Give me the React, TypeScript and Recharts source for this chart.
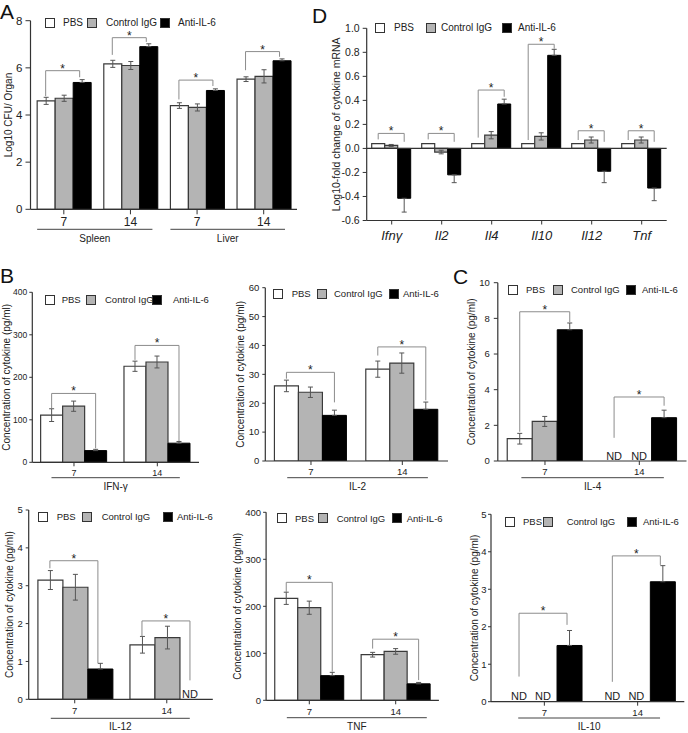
import React from 'react';
import { BarChart, Bar, XAxis, YAxis, ErrorBar, ReferenceLine } from 'recharts';

const FONT = '"Liberation Sans", Arial, Helvetica, sans-serif';
const INK = '#222';
const AXIS = '#333';
const GREY_FILL = '#b4b4b4';
const BRACKET = '#8c8c8c';
const ERR = '#555';

type Num = number | null;

// A: bacterial load (log10 CFU / organ)
const aCats = ['S7', 'S14', 'L7', 'L14'];
const aTickText = ['7', '14', '7', '14'];
const aPbs: Num[] = [4.6, 6.17, 4.4, 5.52];
const aPbsErr = [0.15, 0.15, 0.12, 0.1];
const aCtrl: Num[] = [4.71, 6.1, 4.32, 5.64];
const aCtrlErr = [0.13, 0.17, 0.15, 0.28];
const aAnti: Num[] = [5.38, 6.9, 5.04, 6.3];
const aAntiErr = [0.12, 0.12, 0.07, 0.08];
const aBrackets = [[5.88, 4.8, 5.6], [7.28, 6.55, 7.1], [5.48, 4.66, 5.23], [6.69, 5.9, 6.47]];
const aTicks = [0, 2, 4, 6, 8];

// D: log10 fold change of cytokine mRNA
const dCats = ['Ifnγ', 'Il2', 'Il4', 'Il10', 'Il12', 'Tnf'];
const dPbs: Num[] = [0.04, 0.04, 0.04, 0.04, 0.04, 0.04];
const dPbsErr = [0, 0, 0, 0, 0, 0];
const dCtrl: Num[] = [0.025, -0.03, 0.11, 0.1, 0.07, 0.07];
const dCtrlErr = [0.008, 0.015, 0.03, 0.03, 0.025, 0.025];
const dAnti: Num[] = [-0.415, -0.22, 0.37, 0.775, -0.19, -0.33];
const dAntiErr = [0.115, 0.065, 0.04, 0.05, 0.095, 0.105];
const dBrackets = [[0.125, 0.075, 0.055], [0.125, 0.075, 0.055], [0.486, 0.09, 0.43], [0.867, 0.07, 0.83], [0.147, 0.07, 0.055], [0.147, 0.07, 0.055]];
const dTicks = [-0.6, -0.4, -0.2, 0, 0.2, 0.4, 0.6, 0.8, 1.0];

// B / C: serum cytokines, days 7 and 14 (null = not detected)
const dayCats = ['7', '14'];

const ifnPbs: Num[] = [111, 226];
const ifnPbsErr = [15, 12];
const ifnCtrl: Num[] = [132, 236];
const ifnCtrlErr = [12, 14];
const ifnAnti: Num[] = [27.5, 45];
const ifnAntiErr = [3, 4];
const ifnBrackets = [[162, 127, 33], [275, 241, 50]];

const il2Pbs: Num[] = [26, 31.8];
const il2PbsErr = [2, 2.8];
const il2Ctrl: Num[] = [23.8, 33.9];
const il2CtrlErr = [1.8, 3.5];
const il2Anti: Num[] = [15.8, 17.9];
const il2AntiErr = [1.8, 2.5];
const il2Brackets = [[30.7, 28.5, 20.3], [39.5, 36.5, 21]];

const il4Pbs: Num[] = [1.25, null];
const il4PbsErr = [0.3, 0];
const il4Ctrl: Num[] = [2.22, null];
const il4CtrlErr = [0.28, 0];
const il4Anti: Num[] = [7.36, 2.43];
const il4AntiErr = [0.38, 0.42];
const il4Brackets = [[8.37, 1.64, 7.78], [3.59, 1.3, 3.1]];

const il12Pbs: Num[] = [3.15, 1.44];
const il12PbsErr = [0.25, 0.22];
const il12Ctrl: Num[] = [2.96, 1.63];
const il12CtrlErr = [0.34, 0.3];
const il12Anti: Num[] = [0.8, null];
const il12AntiErr = [0.15, 0];
const il12Brackets = [[3.66, 3.46, 0.95], [2.07, 1.66, 0.5]];

const tnfPbs: Num[] = [217, 97];
const tnfPbsErr = [13, 5];
const tnfCtrl: Num[] = [197, 104];
const tnfCtrlErr = [14, 6];
const tnfAnti: Num[] = [52.5, 35];
const tnfAntiErr = [7, 3];
const tnfBrackets = [[251, 230, 61], [130, 110, 43]];

const il10Pbs: Num[] = [null, null];
const il10PbsErr = [0, 0];
const il10Ctrl: Num[] = [null, null];
const il10CtrlErr = [0, 0];
const il10Anti: Num[] = [1.5, 3.2];
const il10AntiErr = [0.4, 0.43];
const il10Brackets = [[2.36, 0.67, 2.05], [3.89, 0.53, 3.65]];

const Y_LABEL = 'Concentration of cytokine (pg/ml)';

interface Group { from: number; to: number; text: string }

interface Cfg {
  left: number; top: number; width: number; height: number;
  margin: { top: number; right: number; bottom: number; left: number };
  yWidth: number; xHeight: number; xPad?: number;
  cats: string[]; tickText?: string[];
  pbs: Num[]; pbsErr: number[]; ctrl: Num[]; ctrlErr: number[]; anti: Num[]; antiErr: number[];
  yDomain: [number, number]; yTicks: number[]; yFmt?: (v: number) => string;
  yLabel: string; yLabelX: number; yLabelSize: number;
  yTickSize: number; yTickMargin: number; yTickFont: number;
  xTickSize: number; xTickMargin: number; xTickFont: number; xItalic?: boolean;
  brackets: number[][];
  groups?: Group[]; groupDy?: number; groupTextDy?: number; groupFont?: number;
  zeroLine?: boolean;
}

function Panel(c: Cfg) {
  const n = c.cats.length;
  const series = [c.pbs, c.ctrl, c.anti];
  const rows = c.cats.map((cat, i) => {
    const p = c.pbs[i], g = c.ctrl[i], a = c.anti[i];
    return {
      cat,
      pbs: p ?? 0, pbsErr: p == null ? 0 : c.pbsErr[i],
      ctrl: g ?? 0, ctrlErr: g == null ? 0 : c.ctrlErr[i],
      anti: a ?? 0,
      antiErr: a == null ? 0 : a >= 0 ? [0, c.antiErr[i]] : [c.antiErr[i], 0],
    };
  });

  // pixel offset of each of the three bars from its category centre
  const pad = c.xPad ?? 0;
  const plotW = c.width - c.margin.left - c.margin.right - c.yWidth - pad;
  const band = plotW / n;
  const off = band * 0.1;
  let size = (band - 2 * off) / 3;
  if (size > 1) size = Math.floor(size);
  const dx = (k: number) => off + size * k + size / 2 - band / 2;
  const dxL = dx(0), dxR = dx(2);

  const plotTop = c.margin.top;
  const plotBottom = c.height - c.margin.bottom - c.xHeight;
  const yMin = c.yDomain[0];

  return (
    <div style={{ position: 'absolute', left: c.left, top: c.top }}>
      <BarChart width={c.width} height={c.height} data={rows} margin={c.margin} barGap={0} barCategoryGap="10%">
        <XAxis
          dataKey="cat"
          height={c.xHeight}
          padding={{ left: pad, right: 0 }}
          interval={0}
          tickSize={c.xTickSize}
          tickMargin={c.xTickMargin}
          tick={{ fill: INK, fontSize: c.xTickFont, fontFamily: FONT, fontStyle: c.xItalic ? 'italic' : 'normal' }}
          tickFormatter={(v: string, i: number) => (c.tickText ? c.tickText[i] : v)}
          axisLine={{ stroke: AXIS, strokeWidth: 1.2 }}
          tickLine={{ stroke: AXIS }}
        />
        <YAxis
          width={c.yWidth}
          domain={c.yDomain}
          ticks={c.yTicks}
          interval={0}
          allowDataOverflow
          tickSize={c.yTickSize}
          tickMargin={c.yTickMargin}
          tick={{ fill: INK, fontSize: c.yTickFont, fontFamily: FONT }}
          tickFormatter={c.yFmt}
          axisLine={{ stroke: AXIS, strokeWidth: 1.2 }}
          tickLine={{ stroke: AXIS }}
          label={{
            value: c.yLabel,
            content: () => (
              <text
                transform={`translate(${c.yLabelX},${(plotTop + plotBottom) / 2}) rotate(-90)`}
                textAnchor="middle"
                dominantBaseline="central"
                fill={INK}
                fontSize={c.yLabelSize}
                fontFamily={FONT}
              >
                {c.yLabel}
              </text>
            ),
          }}
        />
        {c.zeroLine && <ReferenceLine y={0} stroke={AXIS} strokeWidth={1.2} ifOverflow="visible" />}
        <Bar dataKey="pbs" fill="#fff" stroke="#3a3a3a" strokeWidth={1.2} isAnimationActive={false}>
          <ErrorBar dataKey="pbsErr" direction="y" width={2.5} stroke={ERR} strokeWidth={1} />
        </Bar>
        <Bar dataKey="ctrl" fill={GREY_FILL} stroke="#3a3a3a" strokeWidth={1.2} isAnimationActive={false}>
          <ErrorBar dataKey="ctrlErr" direction="y" width={2.5} stroke={ERR} strokeWidth={1} />
        </Bar>
        <Bar dataKey="anti" fill="#000" stroke="#000" strokeWidth={1} isAnimationActive={false}>
          <ErrorBar dataKey="antiErr" direction="y" width={2.5} stroke={ERR} strokeWidth={1} />
        </Bar>

        {/* significance brackets: left leg + top with star, then right leg */}
        {c.brackets.map((b, i) => [
          <ReferenceLine key={`bl${i}`} ifOverflow="visible"
            segment={[{ x: c.cats[i], y: b[1] }, { x: c.cats[i], y: b[0] }]}
            shape={(s: any) => (
              <g>
                <line x1={s.x1 + dxL} y1={s.y1} x2={s.x1 + dxL} y2={s.y2} stroke={BRACKET} strokeWidth={1} />
                <line x1={s.x1 + dxL} y1={s.y2} x2={s.x1 + dxR} y2={s.y2} stroke={BRACKET} strokeWidth={1} />
                <text x={s.x1 + (dxL + dxR) / 2} y={s.y2 + 2} textAnchor="middle" fill={INK} fontSize={12} fontFamily={FONT}>*</text>
              </g>
            )} />,
          <ReferenceLine key={`br${i}`} ifOverflow="visible"
            segment={[{ x: c.cats[i], y: b[2] }, { x: c.cats[i], y: b[0] }]}
            shape={(s: any) => (
              <line x1={s.x1 + dxR} y1={s.y1} x2={s.x1 + dxR} y2={s.y2} stroke={BRACKET} strokeWidth={1} />
            )} />,
        ])}

        {/* ND marks for undetected groups */}
        {c.cats.map((cat, i) => series.map((sv, k) => sv[i] == null ? (
          <ReferenceLine key={`nd${i}-${k}`} ifOverflow="visible"
            segment={[{ x: cat, y: yMin }, { x: cat, y: yMin }]}
            shape={(s: any) => (
              <text x={s.x1 + dx(k)} y={s.y1 - 1.5} textAnchor="middle" fill={INK} fontSize={11} fontFamily={FONT}>ND</text>
            )} />
        ) : null))}

        {/* group underline + name below the day ticks */}
        {(c.groups ?? []).map((g, gi) => (
          <ReferenceLine key={`g${gi}`} ifOverflow="visible"
            segment={[{ x: c.cats[0], y: yMin }, { x: c.cats[0], y: yMin }]}
            shape={(s: any) => {
              const x1 = s.x1 + (g.from - 0.5) * band;
              const x2 = s.x1 + (g.to - 0.5) * band;
              return (
                <g>
                  <line x1={x1} x2={x2} y1={s.y1 + (c.groupDy ?? 18)} y2={s.y1 + (c.groupDy ?? 18)} stroke="#444" strokeWidth={1} />
                  <text x={(x1 + x2) / 2} y={s.y1 + (c.groupTextDy ?? 27)} textAnchor="middle" dominantBaseline="central"
                    fill={INK} fontSize={c.groupFont ?? 10} fontFamily={FONT}>{g.text}</text>
                </g>
              );
            }} />
        ))}
      </BarChart>
    </div>
  );
}

const LEGEND_ITEMS: [string, string][] = [['PBS', '#fff'], ['Control IgG', GREY_FILL], ['Anti-IL-6', '#000']];

function LegendRow({ xs, cy, font }: { xs: number[]; cy: number; font: number }) {
  return (
    <>
      {LEGEND_ITEMS.map(([t, f], k) => (
        <React.Fragment key={t}>
          <div style={{ position: 'absolute', left: xs[2 * k], top: cy - 5, width: 8, height: 8, background: f, border: '1px solid #333' }} />
          <div style={{ position: 'absolute', left: xs[2 * k + 1], top: cy - font * 0.6, fontSize: font, lineHeight: `${font * 1.2}px`, fontFamily: FONT, color: INK, whiteSpace: 'nowrap' }}>{t}</div>
        </React.Fragment>
      ))}
    </>
  );
}

function Letter({ x, y, t }: { x: number; y: number; t: string }) {
  return <div style={{ position: 'absolute', left: x, top: y, fontSize: 21, lineHeight: '21px', fontFamily: FONT, color: '#111' }}>{t}</div>;
}

const dayGroup = (text: string, from = 0.23, to = 1.77): Group[] => [{ from, to, text }];

export default function App() {
  return (
    <div style={{ position: 'absolute', left: 0, top: 0, width: 688, height: 733, background: '#fff', overflow: 'hidden' }}>
      <Panel
        left={0} top={0} width={300} height={250}
        margin={{ top: 20.7, right: 3, bottom: 20.7, left: 0 }} yWidth={30.5} xHeight={20}
        cats={aCats} tickText={aTickText}
        pbs={aPbs} pbsErr={aPbsErr} ctrl={aCtrl} ctrlErr={aCtrlErr} anti={aAnti} antiErr={aAntiErr}
        yDomain={[0, 8]} yTicks={aTicks}
        yLabel="Log10 CFU/ Organ" yLabelX={8.5} yLabelSize={10}
        yTickSize={5} yTickMargin={3} yTickFont={11.5}
        xTickSize={5} xTickMargin={3} xTickFont={12}
        brackets={aBrackets}
        groups={[{ from: 0.1, to: 1.83, text: 'Spleen' }, { from: 2.1, to: 3.82, text: 'Liver' }]}
        groupDy={20} groupTextDy={29} groupFont={10}
      />
      <Panel
        left={326} top={0} width={362} height={250}
        margin={{ top: 28.3, right: 21.3, bottom: 9.5, left: 0 }} yWidth={40.7} xHeight={20}
        cats={dCats}
        pbs={dPbs} pbsErr={dPbsErr} ctrl={dCtrl} ctrlErr={dCtrlErr} anti={dAnti} antiErr={dAntiErr}
        yDomain={[-0.6, 1.0]} yTicks={dTicks} yFmt={(v: number) => v.toFixed(1)}
        yLabel="Log10-fold change of cytokine mRNA" yLabelX={10} yLabelSize={10.5}
        yTickSize={4} yTickMargin={3} yTickFont={10.5}
        xTickSize={4} xTickMargin={6} xTickFont={13} xItalic
        brackets={dBrackets} zeroLine
      />
      <Panel
        left={0} top={285} width={230} height={215}
        margin={{ top: 7.3, right: 31, bottom: 17.7, left: 0 }} yWidth={32.3} xHeight={20}
        cats={dayCats}
        pbs={ifnPbs} pbsErr={ifnPbsErr} ctrl={ifnCtrl} ctrlErr={ifnCtrlErr} anti={ifnAnti} antiErr={ifnAntiErr}
        yDomain={[0, 400]} yTicks={[0, 100, 200, 300, 400]}
        yLabel={Y_LABEL} yLabelX={6.5} yLabelSize={10}
        yTickSize={3} yTickMargin={2} yTickFont={8.5}
        xTickSize={4} xTickMargin={3} xTickFont={9}
        brackets={ifnBrackets} groups={dayGroup('IFN-γ')} groupDy={15.4} groupTextDy={24.4}
      />
      <Panel
        left={230} top={279} width={230} height={221}
        margin={{ top: 8.7, right: 12, bottom: 19, left: 0 }} yWidth={35.3} xHeight={20}
        cats={dayCats}
        pbs={il2Pbs} pbsErr={il2PbsErr} ctrl={il2Ctrl} ctrlErr={il2CtrlErr} anti={il2Anti} antiErr={il2AntiErr}
        yDomain={[0, 60]} yTicks={[0, 10, 20, 30, 40, 50, 60]}
        yLabel={Y_LABEL} yLabelX={10} yLabelSize={10}
        yTickSize={3} yTickMargin={3} yTickFont={9.5}
        xTickSize={4} xTickMargin={3} xTickFont={9.5}
        brackets={il2Brackets} groups={dayGroup('IL-2', 0.24, 1.78)} groupDy={16.7} groupTextDy={25.7}
      />
      <Panel
        left={440} top={265} width={248} height={235}
        margin={{ top: 17.7, right: 1.5, bottom: 19, left: 0 }} yWidth={57.8} xHeight={20}
        cats={dayCats}
        pbs={il4Pbs} pbsErr={il4PbsErr} ctrl={il4Ctrl} ctrlErr={il4CtrlErr} anti={il4Anti} antiErr={il4AntiErr}
        yDomain={[0, 10]} yTicks={[0, 2, 4, 6, 8, 10]}
        yLabel={Y_LABEL} yLabelX={31} yLabelSize={10}
        yTickSize={4} yTickMargin={4} yTickFont={9.5}
        xTickSize={4} xTickMargin={3} xTickFont={9.5}
        brackets={il4Brackets} groups={dayGroup('IL-4', 0.25, 1.76)} groupDy={16.7} groupTextDy={25.7}
      />
      <Panel
        left={0} top={500} width={230} height={233}
        margin={{ top: 10, right: 17.2, bottom: 13.7, left: 0 }} yWidth={28.7} xHeight={20}
        cats={dayCats}
        pbs={il12Pbs} pbsErr={il12PbsErr} ctrl={il12Ctrl} ctrlErr={il12CtrlErr} anti={il12Anti} antiErr={il12AntiErr}
        yDomain={[0, 5]} yTicks={[0, 1, 2, 3, 4, 5]}
        yLabel={Y_LABEL} yLabelX={9.5} yLabelSize={10}
        yTickSize={3} yTickMargin={3} yTickFont={9.5}
        xTickSize={4} xTickMargin={3.5} xTickFont={9.5}
        brackets={il12Brackets} groups={dayGroup('IL-12', 0.24, 1.75)} groupDy={19} groupTextDy={27}
      />
      <Panel
        left={230} top={500} width={230} height={233}
        margin={{ top: 12.3, right: 21.1, bottom: 12.7, left: 0 }} yWidth={36.1} xHeight={20}
        cats={dayCats}
        pbs={tnfPbs} pbsErr={tnfPbsErr} ctrl={tnfCtrl} ctrlErr={tnfCtrlErr} anti={tnfAnti} antiErr={tnfAntiErr}
        yDomain={[0, 400]} yTicks={[0, 100, 200, 300, 400]}
        yLabel={Y_LABEL} yLabelX={7.5} yLabelSize={10}
        yTickSize={3} yTickMargin={2} yTickFont={9.5}
        xTickSize={4} xTickMargin={3.5} xTickFont={9.5}
        brackets={tnfBrackets} groups={dayGroup('TNF', 0.24, 1.86)} groupDy={17.4} groupTextDy={25.7}
      />
      <Panel
        left={460} top={500} width={228} height={233}
        margin={{ top: 14.3, right: 3.7, bottom: 11.3, left: 0 }} yWidth={31} xHeight={20} xPad={6.7}
        cats={dayCats}
        pbs={il10Pbs} pbsErr={il10PbsErr} ctrl={il10Ctrl} ctrlErr={il10CtrlErr} anti={il10Anti} antiErr={il10AntiErr}
        yDomain={[0, 5]} yTicks={[0, 1, 2, 3, 4, 5]}
        yLabel={Y_LABEL} yLabelX={14.5} yLabelSize={10}
        yTickSize={3} yTickMargin={1.5} yTickFont={9.5}
        xTickSize={4} xTickMargin={3.5} xTickFont={9.5}
        brackets={il10Brackets} groups={dayGroup('IL-10', 0.22, 1.74)} groupDy={16.3} groupTextDy={25}
      />

      <LegendRow xs={[45, 63, 87, 106, 160, 178]} cy={23} font={10} />
      <LegendRow xs={[375, 394, 426, 441, 502, 518]} cy={28} font={10} />
      <LegendRow xs={[45, 61.7, 86, 105, 151.7, 173]} cy={300} font={9.5} />
      <LegendRow xs={[273, 291.7, 316.7, 334, 389, 403]} cy={294} font={9.5} />
      <LegendRow xs={[508, 526, 553, 571, 626, 642]} cy={290} font={9.5} />
      <LegendRow xs={[38, 56.7, 81.7, 101.7, 163, 177]} cy={516.7} font={9.5} />
      <LegendRow xs={[276.7, 295, 318, 336.7, 391.7, 406.7]} cy={518.3} font={9.5} />
      <LegendRow xs={[505, 523, 543, 566.7, 626.7, 643]} cy={521.7} font={9.5} />

      <Letter x={0} y={1} t="A" />
      <Letter x={312} y={5} t="D" />
      <Letter x={0} y={265} t="B" />
      <Letter x={453} y={266} t="C" />
    </div>
  );
}
